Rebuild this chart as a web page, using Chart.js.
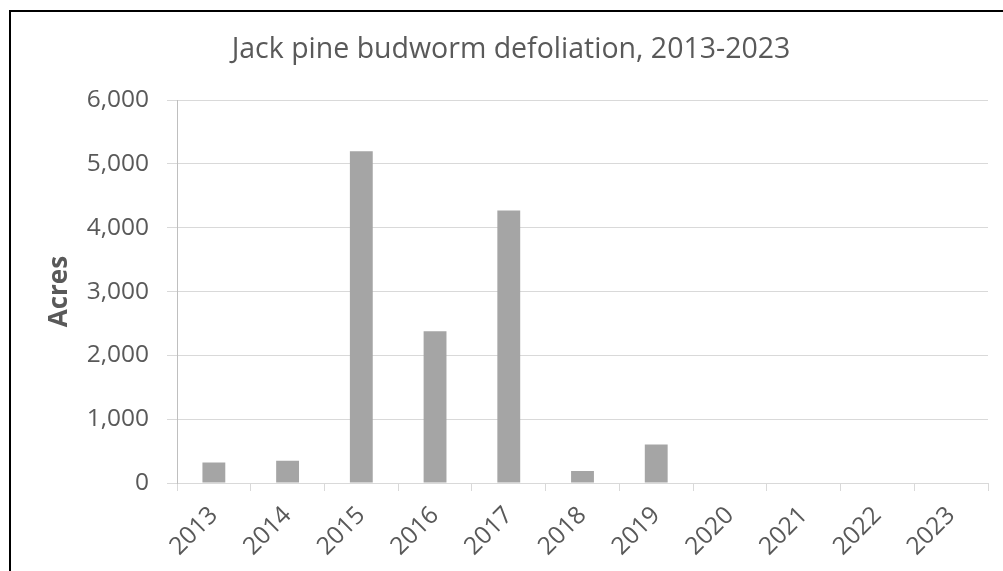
<!DOCTYPE html>
<html>
<head>
<meta charset="utf-8">
<script src="https://cdn.jsdelivr.net/npm/chart.js@4/dist/chart.umd.min.js"></script>
<style>
  html, body { margin: 0; padding: 0; background: #fff; }
  #wrap { position: relative; width: 1003px; height: 571px; overflow: hidden; }
  #frame { position: absolute; left: 9px; top: 10px; width: 1100px; height: 700px;
           border-left: 2px solid #000; border-top: 2px solid #000; pointer-events: none; }
  canvas { position: absolute; left: 0; top: 0; }
</style>
</head>
<body>
<div id="wrap">
  <canvas id="c" width="1003" height="571"></canvas>
  <div id="frame"></div>
</div>
<script>
// Jack pine budworm defoliation by year (acres)
const years = ['2013', '2014', '2015', '2016', '2017', '2018', '2019', '2020', '2021', '2022', '2023'];
const acres = [320, 350, 5200, 2380, 4270, 190, 605, 0, 0, 0, 0];
const yTicks = [0, 1000, 2000, 3000, 4000, 5000, 6000];

const FONT = "'Open Sans', 'DejaVu Sans', sans-serif";
const TEXT = '#595959';

new Chart(document.getElementById('c'), {
  type: 'bar',
  data: {
    labels: years,
    datasets: [{
      label: 'Acres',
      data: acres,
      backgroundColor: '#a5a5a5',
      borderWidth: 0,
      categoryPercentage: 1,
      barPercentage: 0.31
    }]
  },
  options: {
    responsive: false,
    animation: false,
    layout: { padding: { left: 34, right: 15, top: 0, bottom: 0 } },
    plugins: {
      legend: { display: false },
      tooltip: { enabled: false },
      title: {
        display: true,
        text: 'Jack pine budworm defoliation, 2013-2023',
        color: TEXT,
        font: { family: FONT, size: 28.5, weight: 'normal', lineHeight: 1.2 },
        padding: { top: 33, bottom: 33 }
      }
    },
    scales: {
      x: {
        grid: {
          offset: true,
          drawOnChartArea: false,
          drawTicks: true,
          tickLength: 8,
          color: '#d9d9d9'
        },
        border: { color: '#d9d9d9', width: 1 },
        ticks: {
          color: TEXT,
          font: { family: FONT, size: 24.5 },
          minRotation: 45,
          maxRotation: 45,
          padding: 10
        },
        afterFit(scale) { scale.height = 88; }
      },
      y: {
        min: 0,
        max: 6000,
        afterBuildTicks(scale) { scale.ticks = yTicks.map(v => ({ value: v })); },
        grid: { color: '#d9d9d9', lineWidth: 1, drawTicks: true, tickLength: 10 },
        border: { color: '#bfbfbf', width: 1 },
        ticks: {
          color: TEXT,
          font: { family: FONT, size: 24.5 },
          padding: 18,
          callback: v => Number(v).toLocaleString('en-US')
        },
        title: {
          display: true,
          text: 'Acres',
          color: TEXT,
          font: { family: FONT, size: 26, weight: 'bold', lineHeight: 1.2 },
          padding: { top: 10, bottom: 0 }
        },
        afterFit(scale) { scale.width = 143; }
      }
    }
  }
});
</script>
</body>
</html>
